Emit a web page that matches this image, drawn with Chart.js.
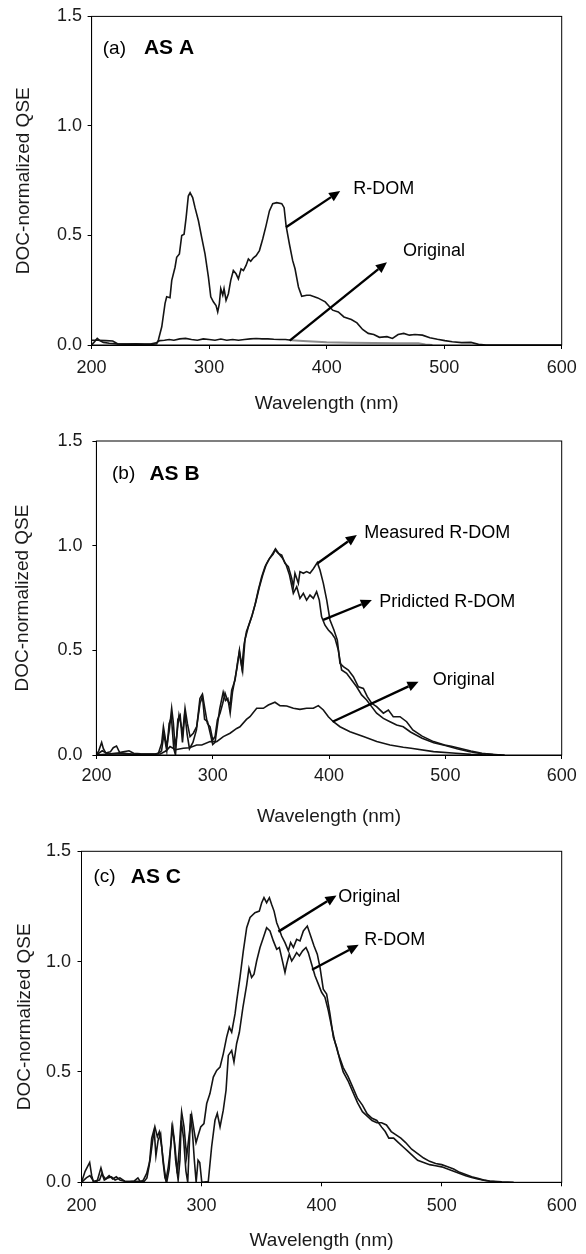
<!DOCTYPE html>
<html>
<head>
<meta charset="utf-8">
<script src="https://cdn.jsdelivr.net/npm/chart.js@4.4.1/dist/chart.umd.min.js"></script>
<style>
  html, body { margin: 0; padding: 0; background: #fff; }
  #wrap { position: relative; width: 586px; height: 1254px; }
  canvas { position: absolute; left: 0; }
</style>
</head>
<body>
<div id="wrap">
  <canvas id="chartA" width="586" height="420" style="top:0px"></canvas>
  <canvas id="chartB" width="586" height="414" style="top:420px"></canvas>
  <canvas id="chartC" width="586" height="420" style="top:834px"></canvas>
</div>
<script>
// --- (a) AS A ---
const aRdomNm = [200, 202, 204.8, 207, 210, 215, 222, 230, 238, 245, 252, 255.4, 256.8, 259.7, 262.5, 263.9, 266.7, 268.2, 271, 272.4, 274.7, 276.7, 278.7, 280.4, 282.3, 283.8, 286, 288, 290.9, 293.7, 296.5, 299.4, 301.4, 303.6, 305.9, 307.3, 308.7, 309.9, 311.6, 312.7, 314.4, 316.4, 318.4, 320.6, 322.9, 324.9, 327.2, 329.2, 331.4, 333.4, 335.4, 337.7, 340, 342.8, 345.6, 348.4, 351.3, 354.1, 357.5, 361.8, 363.8, 365.5, 368.3, 371.1, 373.1, 376, 378.8, 383, 386, 392.4, 398.8, 405.1, 409.9, 414.7, 421, 425.8, 430.6, 435.4, 440.1, 444.9, 451.3, 456, 460.8, 465.6, 470.4, 475.1, 481.5, 487.8, 494.2, 500.6, 506.9, 514.9, 522.8, 529.2, 535.6, 600];
const aRdomQse = [0, 0.012, 0.03, 0.02, 0.012, 0.008, 0.005, 0.004, 0.006, 0.003, 0.004, 0.006, 0.023, 0.083, 0.19, 0.22, 0.216, 0.295, 0.355, 0.40, 0.416, 0.50, 0.506, 0.58, 0.68, 0.695, 0.673, 0.627, 0.567, 0.49, 0.416, 0.31, 0.22, 0.197, 0.18, 0.151, 0.189, 0.257, 0.227, 0.257, 0.204, 0.234, 0.295, 0.34, 0.325, 0.302, 0.348, 0.34, 0.363, 0.393, 0.382, 0.398, 0.408, 0.431, 0.484, 0.544, 0.612, 0.645, 0.65, 0.645, 0.627, 0.544, 0.461, 0.385, 0.348, 0.265, 0.222, 0.227, 0.227, 0.215, 0.197, 0.159, 0.151, 0.128, 0.116, 0.101, 0.071, 0.053, 0.048, 0.035, 0.038, 0.03, 0.048, 0.053, 0.045, 0.048, 0.045, 0.033, 0.026, 0.02, 0.015, 0.011, 0.012, 0.003, 0, 0];
const aOrigNm = [200, 205, 212, 218, 222, 230, 240, 250, 255, 258, 262, 266, 270, 275, 280, 285, 290, 295, 300, 305, 310, 315, 320, 325, 330, 335, 340, 345, 350, 355, 360, 365, 370, 380, 400, 420, 440, 460, 478, 484, 490];
const aOrigQse = [0.022, 0.022, 0.02, 0.018, 0.006, 0.004, 0.004, 0.004, 0.01, 0.02, 0.022, 0.025, 0.022, 0.028, 0.03, 0.025, 0.022, 0.028, 0.025, 0.022, 0.027, 0.022, 0.025, 0.022, 0.025, 0.028, 0.03, 0.028, 0.028, 0.026, 0.025, 0.025, 0.022, 0.018, 0.012, 0.01, 0.009, 0.008, 0.008, 0.002, 0];

// --- (b) AS B ---
const bMeasNm = [200, 202, 204.5, 206, 208, 212, 214.5, 217.3, 220, 223, 228, 232, 238, 245, 250, 253.3, 256.1, 257.6, 259, 260.4, 262.7, 264.7, 266.2, 267.6, 269, 271, 272.5, 274.2, 276.2, 278.2, 280.5, 283.3, 286.2, 289.1, 291.4, 293.4, 295.4, 297.7, 300, 302, 304, 306.3, 308.6, 310.6, 312.6, 314.9, 316.3, 319.2, 321.2, 322.9, 324, 325.7, 327.7, 330.6, 333.5, 336.3, 339.2, 342.1, 345, 347.8, 350.7, 353.5, 356.4, 359.3, 362.1, 365, 367.9, 369.3, 370.7, 373.6, 375, 377.9, 380.7, 383.6, 386.5, 389.9, 392.2, 395.1, 398, 400.8, 404.2, 407.1, 409.4, 412.3, 416.6, 420.9, 425.2, 429.5, 432.9, 436.6, 440.9, 446.7, 451, 455.2, 461, 466.7, 472, 480, 489.8, 499.4, 505, 512.2, 521.9, 531.5, 541, 551];
const bMeasQse = [0, 0.02, 0.06, 0.03, 0.01, 0.015, 0.035, 0.043, 0.012, 0.015, 0.02, 0.008, 0.006, 0.005, 0.004, 0.008, 0.056, 0.135, 0.088, 0.04, 0.12, 0.223, 0.151, 0.04, 0.088, 0.191, 0.151, 0.104, 0.223, 0.151, 0.088, 0.104, 0.135, 0.247, 0.282, 0.215, 0.151, 0.135, 0.072, 0.088, 0.167, 0.199, 0.247, 0.295, 0.263, 0.239, 0.31, 0.358, 0.438, 0.494, 0.45, 0.40, 0.55, 0.613, 0.66, 0.717, 0.788, 0.852, 0.9, 0.93, 0.955, 0.98, 0.963, 0.955, 0.916, 0.9, 0.844, 0.804, 0.868, 0.82, 0.876, 0.868, 0.876, 0.868, 0.89, 0.919, 0.884, 0.82, 0.74, 0.645, 0.597, 0.549, 0.438, 0.422, 0.406, 0.374, 0.326, 0.318, 0.279, 0.247, 0.231, 0.2, 0.215, 0.183, 0.183, 0.159, 0.12, 0.09, 0.064, 0.048, 0.042, 0.032, 0.019, 0.008, 0.002, 0];
const bPredNm = [200, 205, 210, 220, 230, 250, 254, 256, 258, 260.5, 262.5, 264.5, 266.5, 268, 270, 272, 274, 276, 278, 280, 283, 286, 289, 291, 293, 295.5, 298, 300, 302, 304, 306, 309, 311, 313, 315, 317, 319, 321, 323, 325, 327, 329, 331, 334, 337, 340, 343, 346, 349, 352, 354, 357, 360, 363, 366, 369.3, 372.2, 375, 377.9, 380.7, 383.6, 386.5, 389.3, 391.6, 393.6, 396.5, 399.4, 402.2, 405.1, 408, 410.8, 415.1, 419.4, 423.7, 428, 432.3, 436.6, 440.9, 446.7, 452.4, 458.1, 463.8, 470, 480, 490, 500, 510, 520, 530, 540, 548];
const bPredQse = [0, 0.02, 0.005, 0.01, 0.005, 0.003, 0.01, 0.02, 0.1, 0.02, 0.15, 0.18, 0.03, 0, 0.17, 0.19, 0.06, 0.2, 0.1, 0.03, 0.06, 0.12, 0.27, 0.29, 0.17, 0.16, 0.1, 0.05, 0.06, 0.14, 0.22, 0.3, 0.26, 0.27, 0.2, 0.3, 0.36, 0.42, 0.5, 0.42, 0.53, 0.59, 0.62, 0.67, 0.73, 0.8, 0.86, 0.91, 0.94, 0.96, 0.985, 0.96, 0.94, 0.91, 0.86, 0.772, 0.804, 0.748, 0.772, 0.74, 0.764, 0.748, 0.78, 0.74, 0.66, 0.62, 0.597, 0.581, 0.557, 0.5, 0.406, 0.39, 0.358, 0.326, 0.287, 0.263, 0.231, 0.2, 0.175, 0.159, 0.143, 0.135, 0.11, 0.08, 0.058, 0.045, 0.03, 0.017, 0.007, 0.003, 0];
const bOrigNm = [200, 210, 220, 240, 255, 260, 263.3, 268, 274.7, 280, 286.2, 290.6, 297.7, 303.4, 309.1, 314.9, 320.6, 323.4, 329, 332, 337.8, 343.5, 347.8, 353.5, 357.8, 363.6, 369.3, 375, 380.7, 386.5, 390.8, 395.1, 399.4, 403.7, 409.4, 418, 429.5, 441, 452.4, 463.8, 470.5, 489.8, 509, 521.9, 535];
const bOrigQse = [0, 0.005, 0.005, 0.003, 0.005, 0.02, 0.04, 0.025, 0.032, 0.035, 0.048, 0.048, 0.064, 0.064, 0.088, 0.104, 0.127, 0.135, 0.17, 0.183, 0.223, 0.223, 0.239, 0.252, 0.236, 0.234, 0.223, 0.218, 0.223, 0.223, 0.236, 0.215, 0.183, 0.159, 0.135, 0.111, 0.088, 0.064, 0.048, 0.037, 0.032, 0.016, 0.008, 0.003, 0];

// --- (c) AS C ---
const cOrigNm = [200, 203, 206.8, 208.5, 210, 213, 216.2, 218, 220, 223, 226, 229, 232, 236, 240, 244, 247, 249, 251.5, 254.3, 257.1, 259.3, 261.2, 263.2, 264.8, 266.8, 268.7, 270.4, 272.3, 274.3, 276, 277.9, 279.8, 281.5, 283.4, 285.4, 287.6, 289.8, 291.8, 293.7, 295.4, 297, 299.3, 302, 304.3, 307, 309.8, 312.6, 315.4, 318.1, 320.9, 323.1, 325.1, 327.9, 329.3, 332, 334.8, 337.6, 340.4, 344.5, 348.1, 350.1, 352, 354.2, 356.5, 358.4, 360.4, 362.6, 364.8, 366.7, 369.5, 372.3, 374.2, 376.5, 379.2, 382, 384.8, 388.1, 390.9, 393.7, 396.4, 398.7, 401.4, 404.2, 407, 409.8, 412.6, 415.3, 418, 422, 426, 430, 434, 438, 442, 446, 450, 454, 458, 462, 466, 470, 475, 480, 485, 490, 495, 500, 505, 510, 515, 520, 525, 530, 535, 540, 550, 560];
const cOrigQse = [0, 0.05, 0.09, 0.03, 0, 0.005, 0.065, 0.03, 0.015, 0.03, 0.015, 0.025, 0.01, 0.005, 0.003, 0.006, 0.02, 0.003, 0.01, 0.04, 0.1, 0.19, 0.25, 0.206, 0.229, 0.161, 0.07, 0.01, 0.07, 0.161, 0.251, 0.161, 0.04, 0.161, 0.319, 0.251, 0.116, 0.221, 0.304, 0.236, 0.18, 0.21, 0.251, 0.266, 0.357, 0.402, 0.477, 0.507, 0.522, 0.582, 0.658, 0.703, 0.68, 0.763, 0.823, 0.928, 1.049, 1.154, 1.2, 1.222, 1.229, 1.267, 1.29, 1.267, 1.29, 1.259, 1.229, 1.176, 1.146, 1.116, 1.086, 1.049, 1.086, 1.064, 1.101, 1.094, 1.139, 1.161, 1.116, 1.071, 1.034, 0.973, 0.875, 0.853, 0.762, 0.657, 0.612, 0.552, 0.5, 0.46, 0.41, 0.36, 0.32, 0.3, 0.28, 0.27, 0.27, 0.26, 0.23, 0.215, 0.2, 0.18, 0.15, 0.13, 0.11, 0.095, 0.085, 0.08, 0.07, 0.06, 0.045, 0.035, 0.025, 0.018, 0.01, 0.006, 0.002, 0];
const cRdomNm = [200, 204, 207, 210, 215, 217, 219, 222, 225, 228, 232, 236, 242, 248, 252, 254.5, 256.5, 258.5, 260.5, 262, 263.8, 265.9, 267.8, 269.5, 271, 273, 275.3, 277, 278.4, 280.5, 282, 283.1, 285, 287, 288.5, 290.9, 292.5, 294, 295.5, 297.1, 298.5, 300.2, 305.6, 308.4, 311.2, 313.1, 315.4, 318.1, 320.4, 322.3, 325.1, 327, 329.2, 331.5, 334.4, 337.6, 339.5, 341.7, 343.7, 345.9, 348.7, 351.5, 354.2, 357, 359.8, 362.6, 364.8, 366.7, 369.5, 370.9, 373.1, 375.1, 377, 379.2, 381.5, 384.2, 387, 388.9, 391.7, 394.5, 397.3, 400, 402.8, 405.6, 408.4, 411.2, 413.9, 418, 422, 426, 430, 434, 438, 442, 446, 450, 453, 456, 460, 464, 468, 472, 476, 480, 485, 490, 495, 500, 505, 510, 515, 520, 525, 530, 540, 550];
const cRdomQse = [0, 0.02, 0.03, 0.005, 0.01, 0.04, 0.01, 0.02, 0.025, 0.01, 0.02, 0.005, 0.003, 0.005, 0.003, 0.02, 0.08, 0.2, 0.24, 0.12, 0.19, 0.22, 0.1, 0.02, 0, 0.06, 0.248, 0.2, 0.1, 0.01, 0.1, 0.28, 0.2, 0.05, 0, 0.31, 0.22, 0.1, 0, 0.1, 0.09, 0, 0.003, 0.161, 0.281, 0.312, 0.251, 0.327, 0.417, 0.575, 0.597, 0.545, 0.628, 0.68, 0.79, 0.895, 0.97, 0.928, 0.943, 1.003, 1.064, 1.109, 1.154, 1.139, 1.094, 1.056, 1.064, 1.019, 0.951, 0.988, 1.034, 1.003, 1.019, 1.041, 1.026, 1.049, 1.064, 1.041, 0.988, 0.936, 0.898, 0.861, 0.838, 0.778, 0.703, 0.634, 0.582, 0.52, 0.48, 0.43, 0.38, 0.35, 0.31, 0.29, 0.28, 0.25, 0.23, 0.2, 0.2, 0.18, 0.16, 0.14, 0.12, 0.1, 0.09, 0.08, 0.075, 0.07, 0.06, 0.05, 0.04, 0.03, 0.022, 0.015, 0.005, 0];

// arrows [fromNm, fromQse, toNm, toQse] and notes [text, nm, qse]
const aArrows = [[365.4, 0.537, 411.5, 0.703], [368.6, 0.02, 451.3, 0.378]];
const aNotes = [['R-DOM', 422.6, 0.71], ['Original', 465, 0.431]];
const bArrows = [[390.2, 0.916, 423.9, 1.051], [395, 0.645, 436.8, 0.74], [403, 0.159, 476.9, 0.35]];
const bNotes = [['Measured R-DOM', 430.3, 1.059], ['Pridicted R-DOM', 443.2, 0.732], ['Original', 489.1, 0.358]];
const cArrows = [[364, 1.136, 412.4, 1.3], [392, 0.963, 430.9, 1.076]];
const cNotes = [['Original', 413.9, 1.294], ['R-DOM', 435.6, 1.098]];

const FONT = '"Liberation Sans", Arial, sans-serif';
Chart.defaults.font.family = FONT;
Chart.defaults.color = '#1a1a1a';

const zip = (xs, ys) => xs.map((x, i) => ({ x, y: ys[i] }));

const notesPlugin = {
    id: 'notes',
    afterDatasetsDraw(chart, args, opts) {
        const { ctx, chartArea: area, scales: { x, y } } = chart;
        ctx.save();
        // box round the plot
        ctx.strokeStyle = '#000';
        ctx.lineWidth = 1;
        ctx.strokeRect(area.left, area.top, area.width, area.height);

        ctx.fillStyle = '#000';
        ctx.lineWidth = 2.4;
        opts.arrows.forEach(([x0, y0, x1, y1]) => {
            const px0 = x.getPixelForValue(x0), py0 = y.getPixelForValue(y0);
            const px1 = x.getPixelForValue(x1), py1 = y.getPixelForValue(y1);
            const ang = Math.atan2(py1 - py0, px1 - px0);
            const head = 11, half = 5;
            const bx = px1 - head * Math.cos(ang), by = py1 - head * Math.sin(ang);
            ctx.beginPath();
            ctx.moveTo(px0, py0);
            ctx.lineTo(bx, by);
            ctx.stroke();
            ctx.beginPath();
            ctx.moveTo(px1, py1);
            ctx.lineTo(bx + half * Math.sin(ang), by - half * Math.cos(ang));
            ctx.lineTo(bx - half * Math.sin(ang), by + half * Math.cos(ang));
            ctx.closePath();
            ctx.fill();
        });

        ctx.textAlign = 'left';
        ctx.textBaseline = 'middle';
        ctx.font = '18px ' + FONT;
        opts.notes.forEach(([text, nx, ny]) => {
            ctx.fillText(text, x.getPixelForValue(nx), y.getPixelForValue(ny));
        });

        // panel tag, e.g. "(a)  AS A"
        const [tag, name] = opts.tag;
        ctx.font = '19px ' + FONT;
        ctx.fillText(tag[0], x.getPixelForValue(tag[1]), y.getPixelForValue(tag[2]));
        ctx.font = 'bold 21px ' + FONT;
        ctx.fillText(name[0], x.getPixelForValue(name[1]), y.getPixelForValue(name[2]));
        ctx.restore();
    }
};

const makePanel = (id, series, box, notes) => {
    const canvas = document.getElementById(id);
    if (!canvas) {
        console.error(`canvas ${id} not found`);
        return;
    }
    return new Chart(canvas.getContext('2d'), {
        type: 'line',
        data: {
            datasets: series.map(s => ({
                data: zip(s.nm, s.qse),
                borderColor: '#141414',
                borderWidth: 1.6,
                pointRadius: 0,
                tension: 0,
                fill: false,
                segment: s.segment
            }))
        },
        options: {
            responsive: false,
            animation: false,
            events: [],
            layout: { padding: { left: 0, top: box.top, right: 24.3, bottom: 0 } },
            plugins: {
                legend: { display: false },
                tooltip: { enabled: false },
                notes
            },
            scales: {
                x: {
                    type: 'linear',
                    min: 200,
                    max: 600,
                    ticks: { stepSize: 100, padding: box.xTickPad, maxRotation: 0, font: { size: 18 } },
                    grid: { drawOnChartArea: false, tickLength: 4, color: '#000' },
                    border: { color: '#000' },
                    title: {
                        display: true,
                        text: 'Wavelength (nm)',
                        font: { size: 19 },
                        padding: { top: 0, bottom: box.xTitlePad }
                    },
                    afterFit: s => { s.height = box.xHeight; }
                },
                y: {
                    type: 'linear',
                    min: 0,
                    max: 1.5,
                    ticks: { stepSize: 0.5, padding: box.yTickPad, font: { size: 18 }, callback: v => v.toFixed(1) },
                    grid: { drawOnChartArea: false, tickLength: 4, color: '#000' },
                    border: { color: '#000' },
                    title: {
                        display: true,
                        text: 'DOC-normalized QSE',
                        font: { size: 19 },
                        padding: { top: box.yTitlePad, bottom: 0 }
                    },
                    afterFit: s => { s.width = box.yWidth; }
                }
            }
        },
        plugins: [notesPlugin]
    });
};

makePanel('chartA', [
    { nm: aRdomNm, qse: aRdomQse },
    { nm: aOrigNm, qse: aOrigQse, segment: { borderColor: c => c.p0.parsed.x >= 368 ? '#8c8c8c' : undefined, borderWidth: c => c.p0.parsed.x >= 368 ? 2 : undefined } }
], { top: 14.3, xHeight: 75, yWidth: 91.6, xTickPad: 8.5, yTickPad: 5.6, xTitlePad: 5.3, yTitlePad: 12.6 },
{ arrows: aArrows, notes: aNotes, tag: [['(a)', 209.5, 1.354], ['AS A', 244.5, 1.354]] });

makePanel('chartB', [
    { nm: bMeasNm, qse: bMeasQse },
    { nm: bPredNm, qse: bPredQse },
    { nm: bOrigNm, qse: bOrigQse }
], { top: 21, xHeight: 79, yWidth: 96.4, xTickPad: 6, yTickPad: 10, xTitlePad: 5.9, yTitlePad: 11 },
{ arrows: bArrows, notes: bNotes, tag: [['(b)', 213.4, 1.343], ['AS B', 245.6, 1.343]] });

makePanel('chartC', [
    { nm: cOrigNm, qse: cOrigQse },
    { nm: cRdomNm, qse: cRdomQse }
], { top: 16, xHeight: 71.7, yWidth: 81.5, xTickPad: 9, yTickPad: 6.5, xTitlePad: 1.9, yTitlePad: 12.9 },
{ arrows: cArrows, notes: cNotes, tag: [['(c)', 209.9, 1.384], ['AS C', 241, 1.384]] });
</script>
</body>
</html>
